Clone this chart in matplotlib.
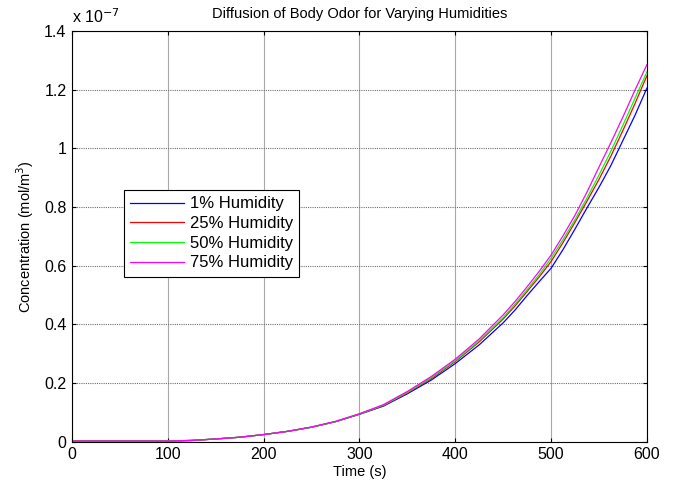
import numpy as np
import matplotlib
matplotlib.use("Agg")
import matplotlib.pyplot as plt

plt.rcParams['font.family'] = ['Liberation Sans', 'DejaVu Sans']

# time samples (s) and concentrations, in units of 1e-7 mol/m^3
time_s = [0, 25, 50, 75, 100, 125, 150, 175, 200, 225, 250, 275, 300,
          325, 350, 375, 400, 425, 450, 462.5, 475, 487.5, 500, 512.5,
          525, 537.5, 550, 562.5, 575, 587.5, 600]
hum_1 = [0.002, 0.002, 0.002, 0.002, 0.002, 0.004, 0.009, 0.015, 0.024, 0.035, 0.049, 0.068, 0.093,
         0.121, 0.163, 0.210, 0.266, 0.330, 0.405, 0.449, 0.498, 0.545, 0.591, 0.655,
         0.725, 0.797, 0.867, 0.942, 1.027, 1.112, 1.205]
hum_25 = [0.002, 0.002, 0.002, 0.002, 0.002, 0.004, 0.009, 0.015, 0.024, 0.035, 0.049, 0.068, 0.094,
          0.123, 0.166, 0.215, 0.273, 0.340, 0.418, 0.463, 0.512, 0.561, 0.614, 0.679,
          0.748, 0.820, 0.894, 0.974, 1.061, 1.152, 1.247]
hum_50 = [0.002, 0.002, 0.002, 0.002, 0.002, 0.004, 0.009, 0.015, 0.024, 0.035, 0.049, 0.068, 0.094,
          0.124, 0.168, 0.218, 0.276, 0.344, 0.423, 0.469, 0.518, 0.569, 0.625, 0.689,
          0.757, 0.831, 0.909, 0.991, 1.079, 1.170, 1.260]
hum_75 = [0.002, 0.002, 0.002, 0.002, 0.002, 0.004, 0.009, 0.015, 0.024, 0.035, 0.050, 0.069, 0.095,
          0.126, 0.171, 0.222, 0.281, 0.350, 0.432, 0.478, 0.528, 0.580, 0.636, 0.702,
          0.772, 0.851, 0.936, 1.020, 1.107, 1.198, 1.285]

labels = ['1% Humidity', '25% Humidity', '50% Humidity', '75% Humidity']
colors = ['#0000ff', '#ff0000', '#00ff00', '#ff00ff']

fig = plt.figure(figsize=(6.76, 4.87), dpi=100)
ax = fig.add_axes([0.1065, 0.0932, 0.8505, 0.8434])

for ys, lab, c in zip([hum_1, hum_25, hum_50, hum_75], labels, colors):
    ax.plot(time_s, ys, color=c, lw=0.9, label=lab)

ax.set_xlim(0, 600)
ax.set_ylim(0, 1.4)
ax.set_xticks(np.arange(0, 601, 100))
ax.set_yticks([0, 0.2, 0.4, 0.6, 0.8, 1.0, 1.2, 1.4])
ax.set_yticklabels(['0', '0.2', '0.4', '0.6', '0.8', '1', '1.2', '1.4'])

ax.xaxis.grid(True, color='#a8a8a8', lw=0.8, ls='-')
ax.yaxis.grid(True, color='#707070', lw=0.8, ls=(0, (1, 1)))
ax.tick_params(direction='in', length=3, width=0.8, top=True, right=True,
               labelsize=11.5, pad=4, colors='black')
for s in ax.spines.values():
    s.set_linewidth(0.8)

ax.set_xlabel('Time (s)', fontsize=10.5, labelpad=2)
ax.set_ylabel('Concentration (mol/m$^3$)', fontsize=10.5, labelpad=6)
ax.set_title('Diffusion of Body Odor for Varying Humidities', fontsize=10.5, pad=9)
ax.text(0.0, 1.012, 'x 10$^{-7}$', transform=ax.transAxes, fontsize=11.5,
        ha='left', va='bottom')

leg = ax.legend(loc='upper left', bbox_to_anchor=(0.09, 0.613), fontsize=12,
                frameon=True, fancybox=False, edgecolor='black', framealpha=1,
                handlelength=3.2, handletextpad=0.35, borderpad=0.4,
                labelspacing=0.28, borderaxespad=0)
leg.get_frame().set_linewidth(0.8)

fig.savefig('out.png', dpi=100)
